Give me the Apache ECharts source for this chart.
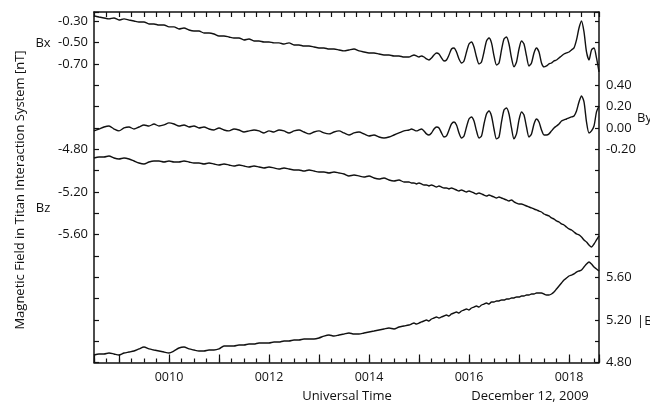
<!DOCTYPE html>
<html>
<head>
<meta charset="utf-8">
<script src="https://cdn.jsdelivr.net/npm/echarts@6/dist/echarts.min.js"></script>
<style>
  html, body { margin: 0; padding: 0; background: #fff; }
  #chart { width: 650px; height: 404px; }
</style>
</head>
<body>
<div id="chart"></div>
<script>
// Sample times in minutes after 00:00 UT (6 s steps before 00:14:48, 3 s after)
const minutes = [
  8.5, 8.6, 8.7, 8.8, 8.9, 9.0, 9.1, 9.2, 9.3, 9.4, 9.5, 9.6, 9.7, 9.8, 9.9,
  10.0, 10.1, 10.2, 10.3, 10.4, 10.5, 10.6, 10.7, 10.8, 10.9,
  11.0, 11.1, 11.2, 11.3, 11.4, 11.5, 11.6, 11.7, 11.8, 11.9,
  12.0, 12.1, 12.2, 12.3, 12.4, 12.5, 12.6, 12.7, 12.8, 12.9,
  13.0, 13.1, 13.2, 13.3, 13.4, 13.5, 13.6, 13.7, 13.8, 13.9,
  14.0, 14.1, 14.2, 14.3, 14.4, 14.5, 14.6, 14.7,
  14.8, 14.85, 14.9, 14.95, 15.0, 15.05, 15.1, 15.15, 15.2, 15.25,
  15.3, 15.35, 15.4, 15.45, 15.5, 15.55, 15.6, 15.65, 15.7, 15.75,
  15.8, 15.85, 15.9, 15.95, 16.0, 16.05, 16.1, 16.15, 16.2, 16.25,
  16.3, 16.35, 16.4, 16.45, 16.5, 16.55, 16.6, 16.65, 16.7, 16.75,
  16.8, 16.85, 16.9, 16.95, 17.0, 17.05, 17.1, 17.15, 17.2, 17.25,
  17.3, 17.35, 17.4, 17.45, 17.5, 17.55, 17.6, 17.65, 17.7, 17.75,
  17.8, 17.85, 17.9, 17.95, 18.0, 18.05, 18.1, 18.15, 18.2, 18.25,
  18.3, 18.35, 18.4, 18.45, 18.5, 18.55, 18.6
];

// Bx [nT]
const bx = [
  -0.251, -0.261, -0.270, -0.279, -0.270, -0.289, -0.279, -0.289, -0.298, -0.308, -0.308, -0.326, -0.326, -0.336, -0.336,
  -0.354, -0.354, -0.373, -0.364, -0.383, -0.392, -0.392, -0.411, -0.411, -0.420,
  -0.439, -0.439, -0.448, -0.458, -0.458, -0.476, -0.467, -0.486, -0.486, -0.495,
  -0.495, -0.504, -0.504, -0.514, -0.504, -0.523, -0.523, -0.533, -0.533, -0.542,
  -0.551, -0.551, -0.561, -0.561, -0.570, -0.579, -0.570, -0.561, -0.579, -0.589,
  -0.598, -0.598, -0.608, -0.617, -0.617, -0.626, -0.626, -0.636,
  -0.636, -0.626, -0.617, -0.626, -0.636, -0.626, -0.636, -0.654, -0.664, -0.645,
  -0.617, -0.598, -0.608, -0.645, -0.673, -0.664, -0.617, -0.561, -0.551, -0.589,
  -0.654, -0.692, -0.673, -0.589, -0.514, -0.495, -0.542, -0.636, -0.701, -0.683,
  -0.589, -0.486, -0.458, -0.504, -0.626, -0.711, -0.692, -0.570, -0.467, -0.448,
  -0.514, -0.645, -0.729, -0.683, -0.561, -0.486, -0.514, -0.626, -0.720, -0.692,
  -0.598, -0.551, -0.589, -0.692, -0.729, -0.720, -0.701, -0.692, -0.673, -0.664,
  -0.645, -0.626, -0.608, -0.598, -0.589, -0.570, -0.551, -0.476, -0.364, -0.298,
  -0.401, -0.589, -0.664, -0.570, -0.551, -0.645, -0.776
];

// By [nT]
const by = [
  -0.029, -0.011, 0.008, 0.017, -0.011, -0.029, -0.001, 0.008, -0.011, 0.008, 0.027, 0.017, 0.036, 0.017, 0.027,
  0.046, 0.036, 0.017, 0.027, 0.008, 0.017, -0.001, 0.008, -0.011, -0.020,
  -0.001, -0.020, -0.029, -0.011, -0.020, -0.039, -0.029, -0.020, -0.029, -0.048,
  -0.029, -0.039, -0.020, -0.029, -0.048, -0.029, -0.020, -0.039, -0.057, -0.039,
  -0.029, -0.048, -0.057, -0.039, -0.029, -0.048, -0.067, -0.048, -0.039, -0.057,
  -0.076, -0.067, -0.086, -0.095, -0.086, -0.067, -0.048, -0.029,
  -0.020, -0.011, -0.020, -0.029, -0.020, -0.011, -0.029, -0.057, -0.067, -0.048,
  -0.011, 0.008, -0.001, -0.048, -0.086, -0.076, -0.020, 0.036, 0.055, 0.027,
  -0.048, -0.095, -0.076, 0.008, 0.083, 0.102, 0.064, -0.029, -0.095, -0.076,
  0.036, 0.130, 0.158, 0.111, -0.011, -0.104, -0.086, 0.055, 0.167, 0.186,
  0.130, -0.001, -0.104, -0.057, 0.074, 0.149, 0.121, 0.008, -0.086, -0.057,
  0.036, 0.083, 0.055, -0.020, -0.067, -0.067, -0.057, -0.029, -0.001, 0.017,
  0.036, 0.064, 0.074, 0.083, 0.093, 0.102, 0.111, 0.158, 0.243, 0.299,
  0.243, 0.055, -0.048, -0.029, 0.017, 0.149, 0.205
];

// Bz [nT]
const bz = [
  -4.883, -4.873, -4.873, -4.864, -4.883, -4.892, -4.883, -4.892, -4.911, -4.930, -4.939, -4.920, -4.911, -4.911, -4.920,
  -4.911, -4.920, -4.920, -4.911, -4.920, -4.930, -4.930, -4.939, -4.930, -4.939,
  -4.948, -4.939, -4.948, -4.958, -4.948, -4.958, -4.967, -4.958, -4.967, -4.976,
  -4.967, -4.976, -4.986, -4.976, -4.986, -4.995, -4.995, -5.005, -4.995, -5.005,
  -5.014, -5.014, -5.023, -5.014, -5.023, -5.033, -5.051, -5.042, -5.051, -5.061,
  -5.051, -5.070, -5.080, -5.070, -5.089, -5.098, -5.089, -5.108,
  -5.108, -5.117, -5.117, -5.126, -5.117, -5.126, -5.136, -5.136, -5.145, -5.136,
  -5.145, -5.155, -5.145, -5.155, -5.164, -5.164, -5.173, -5.164, -5.173, -5.183,
  -5.192, -5.183, -5.192, -5.201, -5.192, -5.201, -5.211, -5.220, -5.211, -5.220,
  -5.230, -5.239, -5.230, -5.239, -5.248, -5.258, -5.248, -5.258, -5.267, -5.276,
  -5.286, -5.276, -5.295, -5.305, -5.314, -5.314, -5.323, -5.333, -5.342, -5.351,
  -5.361, -5.370, -5.380, -5.389, -5.408, -5.417, -5.426, -5.445, -5.455, -5.473,
  -5.483, -5.501, -5.511, -5.530, -5.548, -5.558, -5.576, -5.595, -5.604, -5.623,
  -5.651, -5.670, -5.698, -5.717, -5.689, -5.651, -5.614
];

// |B| [nT]
const bmag = [
  4.870, 4.880, 4.880, 4.889, 4.880, 4.870, 4.889, 4.898, 4.908, 4.927, 4.945, 4.927, 4.917, 4.908, 4.898,
  4.889, 4.908, 4.936, 4.945, 4.927, 4.917, 4.908, 4.908, 4.917, 4.917,
  4.927, 4.955, 4.955, 4.955, 4.964, 4.964, 4.973, 4.973, 4.983, 4.983,
  4.983, 4.992, 4.992, 5.002, 5.002, 5.011, 5.011, 5.020, 5.020, 5.020,
  5.030, 5.048, 5.058, 5.048, 5.058, 5.067, 5.077, 5.067, 5.067, 5.077,
  5.086, 5.095, 5.105, 5.114, 5.123, 5.114, 5.133, 5.142,
  5.152, 5.161, 5.170, 5.161, 5.170, 5.180, 5.189, 5.198, 5.189, 5.208,
  5.217, 5.227, 5.217, 5.227, 5.236, 5.245, 5.236, 5.255, 5.264, 5.273,
  5.264, 5.283, 5.292, 5.302, 5.292, 5.311, 5.320, 5.330, 5.320, 5.339,
  5.348, 5.358, 5.348, 5.367, 5.367, 5.377, 5.377, 5.386, 5.386, 5.395,
  5.395, 5.405, 5.405, 5.414, 5.414, 5.423, 5.423, 5.433, 5.433, 5.442,
  5.442, 5.452, 5.452, 5.452, 5.442, 5.433, 5.433, 5.442, 5.461, 5.489,
  5.517, 5.545, 5.573, 5.592, 5.611, 5.620, 5.630, 5.648, 5.658, 5.667,
  5.695, 5.723, 5.742, 5.723, 5.695, 5.677, 5.658
];

// Left axis tick labels (Bx above, Bz below) and right axis labels (By above, |B| below)
const bxLabels = [-0.30, -0.50, -0.70];
const bzLabels = [-4.80, -5.20, -5.60];
const byLabels = [0.40, 0.20, 0.00, -0.20];
const bmagLabels = [5.60, 5.20, 4.80];
const timeLabels = [10, 12, 14, 16, 18];

const FONT = 'Open Sans';
const INK = '#111';
// every axis shares the same nT-per-pixel scale; the plot spans SPAN nT vertically
const SPAN = 3.2859;

function pick(list) {
  return function (v) {
    for (const l of list) if (Math.abs(v - l) < 1e-6) return l.toFixed(2);
    return '';
  };
}
function pair(xs, ys) { return xs.map((x, i) => [x, ys[i]]); }

const chart = echarts.init(document.getElementById('chart'), null, { renderer: 'canvas' });

const yBase = {
  type: 'value', splitLine: { show: false },
  axisLine: { show: true, onZero: false, lineStyle: { color: INK, width: 1.5 } },
  axisTick: { show: false },
  axisLabel: { fontFamily: FONT, fontSize: 13, color: INK, margin: 6 }
};

const xBase = {
  type: 'value', min: 8.5, max: 18.6, splitLine: { show: false },
  axisLine: { show: true, onZero: false, lineStyle: { color: INK, width: 1.5 } },
  axisLabel: { show: false }
};

const option = {
  animation: false,
  backgroundColor: '#fff',
  grid: { left: 94, right: 51, top: 12, bottom: 41.5, containLabel: false },
  xAxis: [
    Object.assign({}, xBase, {
      position: 'bottom', interval: 0.25,
      axisTick: { show: true, inside: true, length: 4, lineStyle: { color: INK, width: 1.2 } }
    }),
    Object.assign({}, xBase, {
      position: 'bottom', splitNumber: 10,
      axisLine: { show: false, onZero: false },
      axisTick: { show: true, inside: true, length: 8, lineStyle: { color: INK, width: 1.2 } },
      axisLabel: {
        show: true, fontFamily: FONT, fontSize: 12.5, color: INK, margin: 8,
        formatter: function (v) {
          for (const m of timeLabels) if (Math.abs(v - m) < 1e-6) return '00' + String(m).padStart(2, '0');
          return '';
        }
      }
    }),
    Object.assign({}, xBase, {
      position: 'top', interval: 0.25,
      axisTick: { show: true, inside: true, length: 5, lineStyle: { color: INK, width: 1.2 } }
    })
  ],
  yAxis: [
    Object.assign({}, yBase, {
      position: 'left', min: -3.50, max: -3.50 + SPAN, interval: 0.1,
      axisLabel: Object.assign({}, yBase.axisLabel, { formatter: pick(bxLabels) })
    }),
    Object.assign({}, yBase, {
      position: 'left', min: -6.80, max: -6.80 + SPAN, interval: 0.2,
      axisLine: { show: false, onZero: false },
      axisTick: { show: true, inside: true, length: 5, lineStyle: { color: INK, width: 1.2 } },
      axisLabel: Object.assign({}, yBase.axisLabel, { formatter: pick(bzLabels) })
    }),
    Object.assign({}, yBase, {
      position: 'right', min: -2.20, max: -2.20 + SPAN, interval: 0.2,
      axisTick: { show: true, inside: true, length: 4, lineStyle: { color: INK, width: 1.2 } },
      axisLabel: Object.assign({}, yBase.axisLabel, { margin: 7, formatter: pick(byLabels) })
    }),
    Object.assign({}, yBase, {
      position: 'right', min: 4.80, max: 4.80 + SPAN, interval: 0.2,
      axisLine: { show: false, onZero: false },
      axisLabel: Object.assign({}, yBase.axisLabel, { margin: 7, formatter: pick(bmagLabels) })
    })
  ],
  series: [
    { name: 'Bx', data: pair(minutes, bx), yAxisIndex: 0 },
    { name: 'Bz', data: pair(minutes, bz), yAxisIndex: 1 },
    { name: 'By', data: pair(minutes, by), yAxisIndex: 2 },
    { name: '|B|', data: pair(minutes, bmag), yAxisIndex: 3 }
  ].map(s => Object.assign({
    type: 'line', xAxisIndex: 0, showSymbol: false, smooth: 0.25,
    lineStyle: { color: INK, width: 1.4 }, clip: true
  }, s)),
  graphic: [
    { type: 'text', x: 20, y: 190, rotation: Math.PI / 2,
      style: { text: 'Magnetic Field in Titan Interaction System [nT]', font: '13px "' + FONT + '"', fill: INK,
        textAlign: 'center', textVerticalAlign: 'middle' } },
    { type: 'text', x: 43, y: 43, style: { text: 'Bx', font: '13px "' + FONT + '"', fill: INK, textAlign: 'center', textVerticalAlign: 'middle' } },
    { type: 'text', x: 43, y: 208, style: { text: 'Bz', font: '13px "' + FONT + '"', fill: INK, textAlign: 'center', textVerticalAlign: 'middle' } },
    { type: 'text', x: 637, y: 118, style: { text: 'By', font: '13px "' + FONT + '"', fill: INK, textAlign: 'left', textVerticalAlign: 'middle' } },
    { type: 'text', x: 637, y: 321, style: { text: '|B|', font: '13px "' + FONT + '"', fill: INK, textAlign: 'left', textVerticalAlign: 'middle' } },
    { type: 'text', x: 347, y: 396, style: { text: 'Universal Time', font: '13px "' + FONT + '"', fill: INK, textAlign: 'center', textVerticalAlign: 'middle' } },
    { type: 'text', x: 530, y: 396, style: { text: 'December 12, 2009', font: '13px "' + FONT + '"', fill: INK, textAlign: 'center', textVerticalAlign: 'middle' } }
  ]
};

chart.setOption(option);
</script>
</body>
</html>
